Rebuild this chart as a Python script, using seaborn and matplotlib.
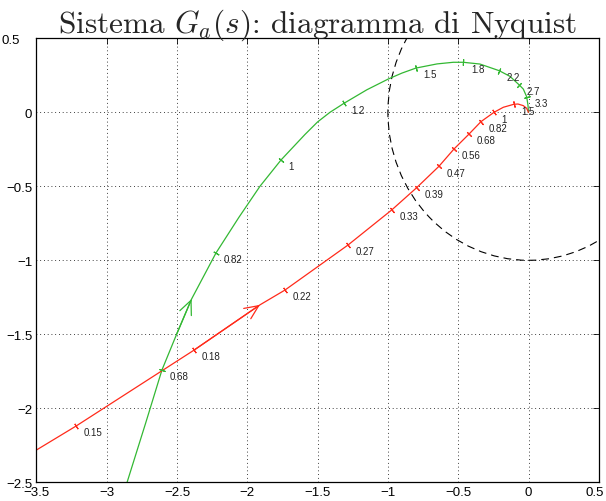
import numpy as np
import pandas as pd
import matplotlib
matplotlib.use("Agg")
import matplotlib.pyplot as plt
import matplotlib.transforms as mtransforms
import seaborn as sns
from matplotlib.patches import Circle

# Nyquist locus of G_a(s): two branches sampled along the curve (Re, Im)
green_re = [-2.855, -2.723, -2.607, -2.502, -2.396, -2.223, -2.060, -1.910, -1.760,
            -1.590, -1.500, -1.412, -1.312, -1.150, -0.997, -0.900, -0.800, -0.650,
            -0.535, -0.464, -0.345, -0.208, -0.132, -0.065, -0.037, -0.013, -0.004, 0.0]
green_im = [-2.500, -2.100, -1.741, -1.498, -1.261, -0.951, -0.710, -0.500, -0.322,
            -0.150, -0.065, 0.000, 0.061, 0.152, 0.225, 0.265, 0.299, 0.327,
            0.338, 0.338, 0.326, 0.281, 0.243, 0.184, 0.157, 0.105, 0.050, 0.0]

red_re = [-3.500, -3.218, -2.379, -1.910, -1.732, -1.284, -0.973, -0.795, -0.637,
          -0.530, -0.423, -0.338, -0.245, -0.179, -0.105, -0.075, -0.037, -0.013, 0.0]
red_im = [-2.282, -2.120, -1.607, -1.301, -1.201, -0.897, -0.660, -0.509, -0.365,
          -0.248, -0.147, -0.063, 0.000, 0.034, 0.054, 0.056, 0.045, 0.027, 0.0]

# frequency markers along each branch
green_w = ["0.68", "0.82", "1", "1.2", "1.5", "1.8", "2.2", "2.7", "3.3"]
green_w_re = [-2.607, -2.223, -1.760, -1.312, -0.800, -0.464, -0.208, -0.065, -0.013]
green_w_im = [-1.741, -0.951, -0.322, 0.061, 0.299, 0.338, 0.281, 0.184, 0.105]

red_w = ["0.15", "0.18", "0.22", "0.27", "0.33", "0.39", "0.47", "0.56", "0.68",
         "0.82", "1", "1.5"]
red_w_re = [-3.218, -2.379, -1.732, -1.284, -0.973, -0.795, -0.637, -0.530, -0.423,
            -0.338, -0.245, -0.105]
red_w_im = [-2.120, -1.607, -1.201, -0.897, -0.660, -0.509, -0.365, -0.248, -0.147,
            -0.063, 0.000, 0.054]

# direction arrows (tip point on each branch)
green_arrow = (-2.396, -1.261)
red_arrow = (-1.910, -1.301)

xticks = [-3.5, -3, -2.5, -2, -1.5, -1, -0.5, 0, 0.5]
xtick_labels = ["\u22123.5", "\u22123", "\u22122.5", "\u22122", "\u22121.5", "\u22121",
                "\u22120.5", "0", "0.5"]
yticks = [-2.5, -2, -1.5, -1, -0.5, 0, 0.5]
ytick_labels = ["\u22122.5", "\u22122", "\u22121.5", "\u22121", "\u22120.5", "0", "0.5"]

GREEN = "#33b833"
RED = "#ff2a1a"

sns.set_style("white")
plt.rcParams["font.family"] = ["Liberation Sans", "DejaVu Sans"]
plt.rcParams["mathtext.fontset"] = "cm"

fig = plt.figure(figsize=(6.06, 5.02), dpi=100)
ax = fig.add_axes([36.4 / 606, 1 - 483.3 / 502, 562.4 / 606, 444 / 502])
ax.set_xlim(-3.5, 0.5)
ax.set_ylim(-2.5, 0.5)

green_df = pd.DataFrame({"re": green_re, "im": green_im})
red_df = pd.DataFrame({"re": red_re, "im": red_im})
sns.lineplot(data=green_df, x="re", y="im", sort=False, estimator=None,
             color=GREEN, lw=0.9, ax=ax)
sns.lineplot(data=red_df, x="re", y="im", sort=False, estimator=None,
             color=RED, lw=0.9, ax=ax)

# unit circle
ax.add_patch(Circle((0, 0), 1, fill=False, ls=(0, (7, 4.5)), lw=0.8, color="k",
                    clip_on=True))


def mark_frequencies(curve_re, curve_im, wre, wim, labels, color):
    pts = ax.transData.transform(np.column_stack([curve_re, curve_im]))
    for x, y, lab in zip(wre, wim, labels):
        d = np.hypot(np.array(curve_re) - x, np.array(curve_im) - y)
        i = int(np.argmin(d))
        a = pts[max(i - 1, 0)]
        b = pts[min(i + 1, len(pts) - 1)]
        ang = np.degrees(np.arctan2(b[1] - a[1], b[0] - a[0]))
        ax.plot([x], [y], marker=(2, 2, ang), ms=4.5, mew=0.8, color=color)
        ax.annotate(lab, (x, y), xytext=(5.5, -4.5), textcoords="offset points",
                    fontsize=7, ha="left", va="center", color="#222222")


mark_frequencies(green_re, green_im, green_w_re, green_w_im, green_w, GREEN)
mark_frequencies(red_re, red_im, red_w_re, red_w_im, red_w, RED)


def arrow(curve_re, curve_im, tip, color):
    i = int(np.argmin(np.hypot(np.array(curve_re) - tip[0], np.array(curve_im) - tip[1])))
    tail = (curve_re[i - 1], curve_im[i - 1])
    ax.annotate("", xy=tip, xytext=tail,
                arrowprops=dict(arrowstyle="->,head_length=1.0,head_width=0.45",
                                color=color, lw=0.9, shrinkA=0, shrinkB=0,
                                mutation_scale=10))


arrow(green_re, green_im, green_arrow, GREEN)
arrow(red_re, red_im, red_arrow, RED)

ax.set_xticks(xticks)
ax.set_xticklabels(xtick_labels)
ax.set_yticks(yticks)
ax.set_yticklabels(ytick_labels)
ax.tick_params(direction="in", top=True, right=True, length=4, width=0.6,
               labelsize=9.5, pad=3, colors="k")
ax.grid(True, ls=(0, (1, 3.5)), color="k", lw=0.6)
for s in ax.spines.values():
    s.set_color("k")
    s.set_linewidth(0.9)
ax.set_xlabel("")
ax.set_ylabel("")

# keep the outermost labels clear of the figure edge and the title
last_x = ax.get_xticklabels()[-1]
last_x.set_transform(last_x.get_transform()
                     + mtransforms.ScaledTranslation(-0.04, 0, fig.dpi_scale_trans))
last_y = ax.get_yticklabels()[-1]
last_y.set_transform(last_y.get_transform()
                     + mtransforms.ScaledTranslation(-0.12, 0, fig.dpi_scale_trans))

ax.set_title(r"Sistema $G_a(s)$: diagramma di Nyquist", fontsize=22.5,
             fontfamily="cmr10", pad=5)

fig.savefig("out.png", dpi=100)
